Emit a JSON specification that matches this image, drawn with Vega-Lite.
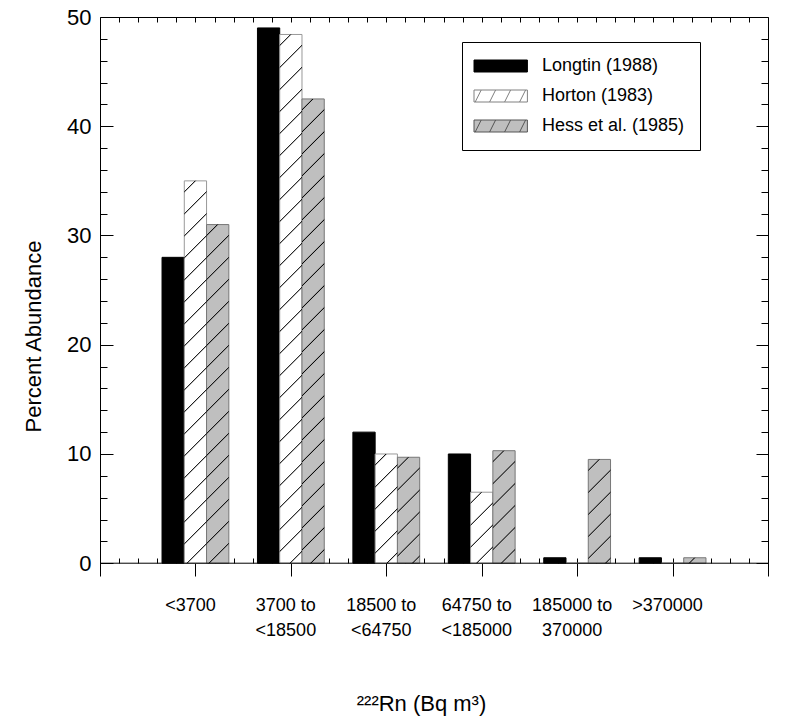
{
  "$schema": "https://vega.github.io/schema/vega-lite/v6.json",
  "width": 668,
  "height": 559,
  "autosize": {"type": "none"},
  "padding": {"left": 100, "top": 17, "right": 34, "bottom": 146},
  "background": "white",
  "config": {
    "font": "Liberation Sans",
    "view": {"stroke": null},
    "axis": {"grid": false, "domainColor": "black", "domainWidth": 1, "tickColor": "black", "tickWidth": 1, "labelColor": "black", "titleColor": "black", "labelFont": "Liberation Sans", "titleFont": "Liberation Sans", "titleFontWeight": "normal"},
    "legend": {"labelFont": "Liberation Sans", "labelColor": "black", "symbolFillColor": "white", "symbolStrokeColor": "black", "labelLimit": 0}
  },
  "params": [
    {"name": "hatch", "value": [
      {"offset": 0, "color": "rgba(0,0,0,0)"},
      {"offset": 0.0172, "color": "rgba(0,0,0,0)"}, {"offset": 0.0192, "color": "#000"}, {"offset": 0.0212, "color": "rgba(0,0,0,0)"},
      {"offset": 0.0557, "color": "rgba(0,0,0,0)"}, {"offset": 0.0577, "color": "#000"}, {"offset": 0.0597, "color": "rgba(0,0,0,0)"},
      {"offset": 0.0942, "color": "rgba(0,0,0,0)"}, {"offset": 0.0962, "color": "#000"}, {"offset": 0.0982, "color": "rgba(0,0,0,0)"},
      {"offset": 0.1326, "color": "rgba(0,0,0,0)"}, {"offset": 0.1346, "color": "#000"}, {"offset": 0.1366, "color": "rgba(0,0,0,0)"},
      {"offset": 0.1711, "color": "rgba(0,0,0,0)"}, {"offset": 0.1731, "color": "#000"}, {"offset": 0.1751, "color": "rgba(0,0,0,0)"},
      {"offset": 0.2095, "color": "rgba(0,0,0,0)"}, {"offset": 0.2115, "color": "#000"}, {"offset": 0.2135, "color": "rgba(0,0,0,0)"},
      {"offset": 0.248, "color": "rgba(0,0,0,0)"}, {"offset": 0.25, "color": "#000"}, {"offset": 0.252, "color": "rgba(0,0,0,0)"},
      {"offset": 0.2865, "color": "rgba(0,0,0,0)"}, {"offset": 0.2885, "color": "#000"}, {"offset": 0.2905, "color": "rgba(0,0,0,0)"},
      {"offset": 0.3249, "color": "rgba(0,0,0,0)"}, {"offset": 0.3269, "color": "#000"}, {"offset": 0.3289, "color": "rgba(0,0,0,0)"},
      {"offset": 0.3634, "color": "rgba(0,0,0,0)"}, {"offset": 0.3654, "color": "#000"}, {"offset": 0.3674, "color": "rgba(0,0,0,0)"},
      {"offset": 0.4018, "color": "rgba(0,0,0,0)"}, {"offset": 0.4038, "color": "#000"}, {"offset": 0.4058, "color": "rgba(0,0,0,0)"},
      {"offset": 0.4403, "color": "rgba(0,0,0,0)"}, {"offset": 0.4423, "color": "#000"}, {"offset": 0.4443, "color": "rgba(0,0,0,0)"},
      {"offset": 0.4788, "color": "rgba(0,0,0,0)"}, {"offset": 0.4808, "color": "#000"}, {"offset": 0.4828, "color": "rgba(0,0,0,0)"},
      {"offset": 0.5172, "color": "rgba(0,0,0,0)"}, {"offset": 0.5192, "color": "#000"}, {"offset": 0.5212, "color": "rgba(0,0,0,0)"},
      {"offset": 0.5557, "color": "rgba(0,0,0,0)"}, {"offset": 0.5577, "color": "#000"}, {"offset": 0.5597, "color": "rgba(0,0,0,0)"},
      {"offset": 0.5942, "color": "rgba(0,0,0,0)"}, {"offset": 0.5962, "color": "#000"}, {"offset": 0.5982, "color": "rgba(0,0,0,0)"},
      {"offset": 0.6326, "color": "rgba(0,0,0,0)"}, {"offset": 0.6346, "color": "#000"}, {"offset": 0.6366, "color": "rgba(0,0,0,0)"},
      {"offset": 0.6711, "color": "rgba(0,0,0,0)"}, {"offset": 0.6731, "color": "#000"}, {"offset": 0.6751, "color": "rgba(0,0,0,0)"},
      {"offset": 0.7095, "color": "rgba(0,0,0,0)"}, {"offset": 0.7115, "color": "#000"}, {"offset": 0.7135, "color": "rgba(0,0,0,0)"},
      {"offset": 0.748, "color": "rgba(0,0,0,0)"}, {"offset": 0.75, "color": "#000"}, {"offset": 0.752, "color": "rgba(0,0,0,0)"},
      {"offset": 0.7865, "color": "rgba(0,0,0,0)"}, {"offset": 0.7885, "color": "#000"}, {"offset": 0.7905, "color": "rgba(0,0,0,0)"},
      {"offset": 0.8249, "color": "rgba(0,0,0,0)"}, {"offset": 0.8269, "color": "#000"}, {"offset": 0.8289, "color": "rgba(0,0,0,0)"},
      {"offset": 0.8634, "color": "rgba(0,0,0,0)"}, {"offset": 0.8654, "color": "#000"}, {"offset": 0.8674, "color": "rgba(0,0,0,0)"},
      {"offset": 0.9018, "color": "rgba(0,0,0,0)"}, {"offset": 0.9038, "color": "#000"}, {"offset": 0.9058, "color": "rgba(0,0,0,0)"},
      {"offset": 0.9403, "color": "rgba(0,0,0,0)"}, {"offset": 0.9423, "color": "#000"}, {"offset": 0.9443, "color": "rgba(0,0,0,0)"},
      {"offset": 0.9788, "color": "rgba(0,0,0,0)"}, {"offset": 0.9808, "color": "#000"}, {"offset": 0.9828, "color": "rgba(0,0,0,0)"},
      {"offset": 1, "color": "rgba(0,0,0,0)"}
    ]}
  ],
  "data": {"values": [
    {"range": "<3700", "study": "Longtin (1988)", "value": 28},
    {"range": "<3700", "study": "Horton (1983)", "value": 35},
    {"range": "<3700", "study": "Hess et al. (1985)", "value": 31},
    {"range": "3700 to <18500", "study": "Longtin (1988)", "value": 49},
    {"range": "3700 to <18500", "study": "Horton (1983)", "value": 48.4},
    {"range": "3700 to <18500", "study": "Hess et al. (1985)", "value": 42.5},
    {"range": "18500 to <64750", "study": "Longtin (1988)", "value": 12},
    {"range": "18500 to <64750", "study": "Horton (1983)", "value": 10},
    {"range": "18500 to <64750", "study": "Hess et al. (1985)", "value": 9.7},
    {"range": "64750 to <185000", "study": "Longtin (1988)", "value": 10},
    {"range": "64750 to <185000", "study": "Horton (1983)", "value": 6.5},
    {"range": "64750 to <185000", "study": "Hess et al. (1985)", "value": 10.3},
    {"range": "185000 to 370000", "study": "Longtin (1988)", "value": 0.5},
    {"range": "185000 to 370000", "study": "Horton (1983)", "value": 0},
    {"range": "185000 to 370000", "study": "Hess et al. (1985)", "value": 9.5},
    {"range": ">370000", "study": "Longtin (1988)", "value": 0.5},
    {"range": ">370000", "study": "Horton (1983)", "value": 0},
    {"range": ">370000", "study": "Hess et al. (1985)", "value": 0.5}
  ]},
  "layer": [
    {
      "mark": {"type": "bar", "strokeWidth": 1},
      "encoding": {
        "x": {"field": "range", "type": "nominal", "sort": null,
          "scale": {"domain": ["<3700", "3700 to <18500", "18500 to <64750", "64750 to <185000", "185000 to 370000", ">370000"], "paddingInner": 0.3, "paddingOuter": 0.65},
          "axis": {"orient": "bottom", "domain": false, "ticks": false, "labelPadding": 20, "labelFontSize": 18, "labelBaseline": "top", "labelLineHeight": 25, "labelAngle": 0, "labelOffset": -5, "labelLimit": 0, "labelOverlap": false,
            "labelExpr": "split(replace(datum.label, ' to ', ' to|'), '|')",
            "title": "²²²Rn (Bq m³)", "titleFontSize": 22, "titleX": 321, "titleY": 134, "titleAlign": "center", "titleBaseline": "alphabetic"}},
        "xOffset": {"field": "study", "type": "nominal", "sort": null,
          "scale": {"domain": ["Longtin (1988)", "Horton (1983)", "Hess et al. (1985)"], "paddingInner": 0, "paddingOuter": 0}},
        "y": {"field": "value", "type": "quantitative", "stack": null,
          "scale": {"domain": [-1.17, 50], "nice": false, "zero": false}, "axis": null},
        "y2": {"datum": 0},
        "fill": {"condition": [{"test": "datum.study === 'Longtin (1988)'", "value": "black"}, {"test": "datum.study === 'Horton (1983)'", "value": "white"}], "value": "#bfbfbf"},
        "stroke": {"condition": [{"test": "datum.study === 'Longtin (1988)'", "value": "black"}, {"test": "datum.study === 'Horton (1983)'", "value": "#999999"}], "value": "#777777"}
      }
    },
    {
      "transform": [{"filter": "datum.study !== 'Longtin (1988)'"}],
      "mark": {"type": "bar", "stroke": null,
        "fill": {"expr": "{gradient: 'linear', x1: 0, y1: 0, x2: 12739 / (496 + pow(datum.value * 10.924, 2)), y2: 572 * datum.value * 10.924 / (496 + pow(datum.value * 10.924, 2)), stops: hatch}"}},
      "encoding": {
        "x": {"field": "range", "type": "nominal", "sort": null,
          "scale": {"domain": ["<3700", "3700 to <18500", "18500 to <64750", "64750 to <185000", "185000 to 370000", ">370000"], "paddingInner": 0.3, "paddingOuter": 0.65}, "axis": null},
        "xOffset": {"field": "study", "type": "nominal", "sort": null,
          "scale": {"domain": ["Longtin (1988)", "Horton (1983)", "Hess et al. (1985)"], "paddingInner": 0, "paddingOuter": 0}},
        "y": {"field": "value", "type": "quantitative", "stack": null,
          "scale": {"domain": [-1.17, 50], "nice": false, "zero": false}, "axis": null},
        "y2": {"datum": 0}
      }
    },
    {
      "data": {"values": [{}]},
      "mark": {"type": "rule", "color": "black", "strokeWidth": 1},
      "encoding": {
        "y": {"datum": 0, "type": "quantitative", "scale": {"domain": [-1.17, 50], "nice": false, "zero": false}, "axis": null}
      }
    },
    {
      "mark": {"type": "point", "opacity": 0, "filled": true},
      "encoding": {
        "fill": {"field": "study", "type": "nominal", "sort": null,
          "scale": {"domain": ["Longtin (1988)", "Horton (1983)", "Hess et al. (1985)"], "range": ["black", "white", "#bfbfbf"]},
          "legend": {"title": null, "orient": "none", "legendX": 362, "legendY": 25, "padding": 15, "strokeColor": "black", "fillColor": "white",
            "symbolSize": 144, "symbolStrokeWidth": 1, "symbolOpacity": 1, "labelFontSize": 18, "labelOffset": 47, "rowPadding": 12, "labelLimit": 0,
            "labelExpr": "datum.label + '\u00a0\u00a0\u00a0\u00a0'"}},
        "stroke": {"field": "study", "type": "nominal", "sort": null,
          "scale": {"domain": ["Longtin (1988)", "Horton (1983)", "Hess et al. (1985)"], "range": ["black", "#808080", "#555555"]}},
        "shape": {"field": "study", "type": "nominal", "sort": null,
          "scale": {"domain": ["Longtin (1988)", "Horton (1983)", "Hess et al. (1985)"],
            "range": ["M-2,-1H6.9V1H-2Z", "M-2,-1H6.9V1H-2Z M-1.8,1L-0.8,-1 M0.6,1L1.6,-1 M3.1,1L4.1,-1 M5.6,1L6.6,-1", "M-2,-1H6.9V1H-2Z M-1.8,1L-0.8,-1 M0.6,1L1.6,-1 M3.1,1L4.1,-1 M5.6,1L6.6,-1"]}}
      }
    },
    {
      "data": {"values": [{}]},
      "mark": {"type": "point", "opacity": 0},
      "encoding": {
        "x": {"datum": 0, "type": "quantitative", "scale": {"domain": [0, 7], "nice": false, "zero": false},
          "axis": {"orient": "top", "values": [0.2, 0.4, 0.6, 0.8, 1, 1.2, 1.4, 1.6, 1.8, 2, 2.2, 2.4, 2.6, 2.8, 3, 3.2, 3.4, 3.6, 3.8, 4, 4.2, 4.4, 4.6, 4.8, 5, 5.2, 5.4, 5.6, 5.8, 6, 6.2, 6.4, 6.6, 6.8], "tickSize": -5, "labels": false, "domain": true, "title": null}},
        "y": {"datum": 0, "type": "quantitative", "scale": {"domain": [-1.17, 50], "nice": false, "zero": false},
          "axis": {"orient": "left", "values": [0, 10, 20, 30, 40, 50], "ticks": false, "labels": true, "labelPadding": 9, "labelFontSize": 22, "labelFlush": false, "labelBaseline": "middle", "domain": true,
            "title": "Percent Abundance", "titleFontSize": 22, "titleAngle": -90, "titleX": -60, "titleY": 319, "titleAlign": "center", "titleBaseline": "alphabetic"}}
      }
    },
    {
      "data": {"values": [{}]},
      "mark": {"type": "point", "opacity": 0},
      "encoding": {
        "x": {"datum": 0, "type": "quantitative", "scale": {"domain": [0, 7], "nice": false, "zero": false},
          "axis": {"orient": "bottom", "offset": -13, "values": [0.2, 0.4, 0.6, 0.8, 1, 1.2, 1.4, 1.6, 1.8, 2, 2.2, 2.4, 2.6, 2.8, 3, 3.2, 3.4, 3.6, 3.8, 4, 4.2, 4.4, 4.6, 4.8, 5, 5.2, 5.4, 5.6, 5.8, 6, 6.2, 6.4, 6.6, 6.8], "tickSize": -5, "labels": false, "domain": false, "title": null}},
        "y": {"datum": 0, "type": "quantitative", "scale": {"domain": [-1.17, 50], "nice": false, "zero": false},
          "axis": {"orient": "left", "values": [0, 10, 20, 30, 40, 50], "tickSize": -13, "labels": false, "domain": false, "title": null}}
      }
    },
    {
      "data": {"values": [{}]},
      "mark": {"type": "point", "opacity": 0},
      "encoding": {
        "x": {"datum": 0, "type": "quantitative", "scale": {"domain": [0, 7], "nice": false, "zero": false},
          "axis": {"orient": "bottom", "values": [1, 2, 3, 4, 5, 6], "tickSize": -13, "labels": false, "domain": false, "title": null}},
        "y": {"datum": 0, "type": "quantitative", "scale": {"domain": [-1.17, 50], "nice": false, "zero": false},
          "axis": {"orient": "left", "values": [2, 4, 6, 8, 12, 14, 16, 18, 22, 24, 26, 28, 32, 34, 36, 38, 42, 44, 46, 48], "tickSize": -7, "labels": false, "domain": false, "title": null}}
      }
    },
    {
      "data": {"values": [{}]},
      "mark": {"type": "point", "opacity": 0},
      "encoding": {
        "x": {"datum": 0, "type": "quantitative", "scale": {"domain": [0, 7], "nice": false, "zero": false}, "axis": null},
        "y": {"datum": 0, "type": "quantitative", "scale": {"domain": [-1.17, 50], "nice": false, "zero": false},
          "axis": {"orient": "right", "values": [0, 10, 20, 30, 40, 50], "tickSize": -12, "labels": false, "domain": true, "title": null}}
      }
    },
    {
      "data": {"values": [{}]},
      "mark": {"type": "point", "opacity": 0},
      "encoding": {
        "x": {"datum": 0, "type": "quantitative", "scale": {"domain": [0, 7], "nice": false, "zero": false}, "axis": null},
        "y": {"datum": 0, "type": "quantitative", "scale": {"domain": [-1.17, 50], "nice": false, "zero": false},
          "axis": {"orient": "right", "values": [2, 4, 6, 8, 12, 14, 16, 18, 22, 24, 26, 28, 32, 34, 36, 38, 42, 44, 46, 48], "tickSize": -7, "labels": false, "domain": false, "title": null}}
      }
    }
  ],
  "resolve": {"scale": {"x": "independent"}, "axis": {"x": "independent", "y": "independent"}}
}
